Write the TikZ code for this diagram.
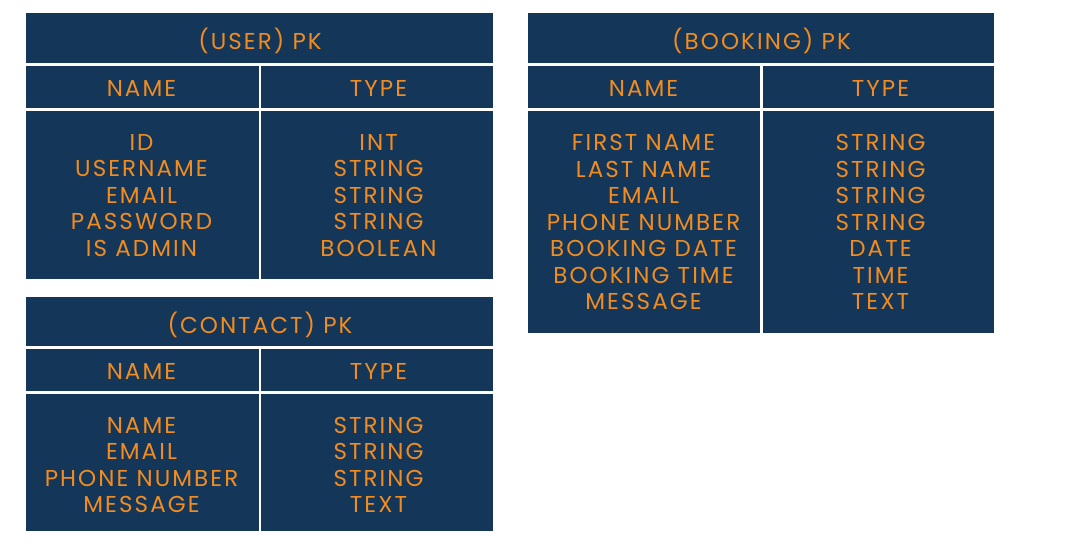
\documentclass[tikz,border=0pt]{standalone}
\usepackage{fontspec}
\setmainfont{Poppins}[LetterSpace=9]
\definecolor{navy}{RGB}{19,54,89}
\definecolor{orng}{RGB}{242,140,30}
\begin{document}
\begin{tikzpicture}[x=1pt,y=-1pt,
  cell/.style={fill=navy},
  txt/.style={text=orng, font=\fontsize{23}{26.5}\selectfont, align=center, inner sep=0pt}]
\useasboundingbox (0,0) rectangle (1080,551);
\fill[white] (0,0) rectangle (1080,551);
% USER
\fill[cell] (26,13.5) rectangle (493,63.5);
\fill[cell] (26,66) rectangle (258.5,108);
\fill[cell] (260.5,66) rectangle (493,108);
\fill[cell] (26,111) rectangle (258.5,279);
\fill[cell] (260.5,111) rectangle (493,279);
\node[txt,anchor=base] (ut) at (260,50) {(USER) PK};
\node[txt,anchor=base] (un) at (141.5,96) {NAME};
\node[txt,anchor=base] (uy) at (378.5,96) {TYPE};
\node[txt] (unb) at (141.5,195.5) {ID\\USERNAME\\EMAIL\\PASSWORD\\IS ADMIN};
\node[txt] (uyb) at (378.5,195.5) {INT\\STRING\\STRING\\STRING\\BOOLEAN};
% CONTACT
\fill[cell] (26,296.7) rectangle (493,345.7);
\fill[cell] (26,349) rectangle (258.5,391);
\fill[cell] (260.5,349) rectangle (493,391);
\fill[cell] (26,394) rectangle (258.5,531);
\fill[cell] (260.5,394) rectangle (493,531);
\node[txt,anchor=base] (ct) at (260,333) {(CONTACT) PK};
\node[txt,anchor=base] (cn) at (141.5,379) {NAME};
\node[txt,anchor=base] (cy) at (378.5,379) {TYPE};
\node[txt] (cnb) at (141.5,465) {NAME\\EMAIL\\PHONE NUMBER\\MESSAGE};
\node[txt] (cyb) at (378.5,465) {STRING\\STRING\\STRING\\TEXT};
% BOOKING
\fill[cell] (527.7,13.5) rectangle (994.3,63.5);
\fill[cell] (527.7,66) rectangle (760,108);
\fill[cell] (762.7,66) rectangle (994.3,108);
\fill[cell] (527.7,111) rectangle (760,332.7);
\fill[cell] (762.7,111) rectangle (994.3,332.7);
\node[txt,anchor=base] (bt) at (761.5,50) {(BOOKING) PK};
\node[txt,anchor=base] (bn) at (643.5,96) {NAME};
\node[txt,anchor=base] (by) at (880.5,96) {TYPE};
\node[txt] (bnb) at (643.5,222) {FIRST NAME\\LAST NAME\\EMAIL\\PHONE NUMBER\\BOOKING DATE\\BOOKING TIME\\MESSAGE};
\node[txt] (byb) at (880.5,222) {STRING\\STRING\\STRING\\STRING\\DATE\\TIME\\TEXT};
\end{tikzpicture}
\end{document}
